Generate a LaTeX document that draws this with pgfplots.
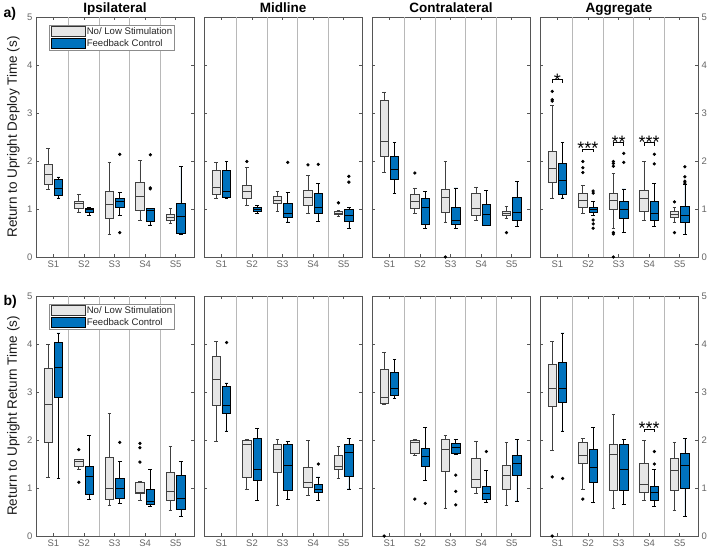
\documentclass[border=0pt]{standalone}
\usepackage{pgfplots}
\pgfplotsset{compat=1.18}
\usepgfplotslibrary{statistics}
\usepackage{fontspec}
\setmainfont{Liberation Sans}
\definecolor{boxgray}{HTML}{E6E6E6}
\definecolor{boxblue}{HTML}{0072BD}
\definecolor{axgray}{HTML}{555555}

\tikzset{stars/.style={anchor=base, font=\fontsize{18}{18}\selectfont, inner sep=0pt}}
\pgfplotsset{
  panel/.style={
    scale only axis, width=158pt, height=240pt,
    xmin=0.43, xmax=5.6, ymin=0, ymax=5,
    xtick={1,2,3,4,5}, xticklabels={S1,S2,S3,S4,S5},
    ytick={0,1,2,3,4,5},
    tick align=inside, major tick length=3pt,
    xtick pos=both, ytick pos=both,
    axis line style={axgray, line width=0.75pt},
    tick style={axgray, line width=0.6pt},
    tick label style={font=\fontsize{9.5}{11}\selectfont, color=black!60},
    /pgf/number format/assume math mode=true,
    extra x ticks={1.5,2.5,3.5,4.5}, extra x tick labels={,,,},
    extra x tick style={grid=major, major grid style={draw=black!28, line width=1pt}, major tick length=0pt},
    boxplot/draw direction=y,
    boxplot/box extend=0.27, boxplot/whisker extend=0.12,
    every axis title/.style={font=\bfseries\fontsize{13.5}{15}\selectfont, at={(0.5,1)}, anchor=base, yshift=5pt},
    legend image code/.code={\draw[#1] (0pt,-5pt) rectangle (34pt,5pt);},
    legend style={at={(0.085,0.967)}, anchor=north west, draw=black!45, line width=0.5pt,
      font=\fontsize{9.6}{11}\selectfont, text=black!85, inner xsep=1.5pt, inner ysep=1pt,
      row sep=1.5pt, nodes={inner sep=0.8pt}},
    legend cell align=left,
  },
  gbox/.style={solid, draw=black!75, fill=boxgray, line width=0.65pt, mark=*, mark size=1.3pt,
    mark options={solid, fill=black, draw=black}, forget plot},
  bbox/.style={solid, draw=black, fill=boxblue, line width=0.65pt, mark=*, mark size=1.3pt,
    mark options={solid, fill=black, draw=black}, forget plot},
}
\newcommand{\G}[7]{\addplot[gbox, boxplot prepared={draw position=#1, lower whisker=#2, lower quartile=#3, median=#4, upper quartile=#5, upper whisker=#6}] coordinates {#7};}
\newcommand{\B}[7]{\addplot[bbox, boxplot prepared={draw position=#1, lower whisker=#2, lower quartile=#3, median=#4, upper quartile=#5, upper whisker=#6}] coordinates {#7};}
\newcommand{\Leg}{%
  \addlegendimage{draw=black!80, fill=boxgray, line width=0.8pt}
  \addlegendentry{No/ Low Stimulation}
  \addlegendimage{draw=black, fill=boxblue, line width=0.8pt}
  \addlegendentry{Feedback Control}}

\begin{document}
\begin{tikzpicture}[x=1pt,y=1pt]
\useasboundingbox (0,0) rectangle (708,-552);
\node[anchor=base west, font=\bfseries\fontsize{14}{16}\selectfont] at (0,-17) {a)};
\node[anchor=base west, font=\bfseries\fontsize{14}{16}\selectfont] at (0,-305) {b)};
\node[rotate=90, font=\fontsize{13.5}{15}\selectfont, text=black!90] at (13.5,-137) {Return to Upright Deploy Time (s)};
\node[rotate=90, font=\fontsize{13.5}{15}\selectfont, text=black!90] at (13.5,-416) {Return to Upright Return Time (s)};

% ---------------- Row a ----------------
\begin{axis}[panel, at={(36pt,-257pt)}, anchor=south west, title={Ipsilateral}]
\Leg
\G{0.83}{1.41}{1.51}{1.72}{1.93}{2.26}{}
\B{1.17}{1.23}{1.28}{1.44}{1.62}{1.67}{}
\G{1.83}{0.94}{1.02}{1.11}{1.16}{1.30}{}
\B{2.17}{0.87}{0.93}{0.99}{1.01}{1.03}{}
\G{2.83}{0.47}{0.81}{1.09}{1.37}{1.98}{}
\B{3.17}{0.87}{1.04}{1.16}{1.23}{1.35}{(0,2.14) (0,0.51)}
\G{3.83}{0.76}{0.97}{1.27}{1.56}{2.01}{}
\B{4.17}{0.67}{0.75}{0.98}{1.01}{1.01}{(0,2.13) (0,1.44) (0,1.42)}
\G{4.83}{0.71}{0.76}{0.83}{0.88}{1.01}{}
\B{5.17}{0.47}{0.49}{0.85}{1.11}{1.89}{}
\end{axis}

\begin{axis}[panel, at={(204pt,-257pt)}, anchor=south west, title={Midline}, yticklabels={}]
\G{0.83}{1.23}{1.30}{1.46}{1.81}{1.97}{}
\B{1.17}{1.23}{1.24}{1.37}{1.81}{2.00}{}
\G{1.83}{1.08}{1.22}{1.37}{1.49}{1.86}{(0,1.99)}
\B{2.17}{0.90}{0.96}{1.00}{1.04}{1.08}{}
\G{2.83}{0.95}{1.11}{1.19}{1.26}{1.37}{}
\B{3.17}{0.73}{0.83}{0.92}{1.12}{1.34}{(0,1.97)}
\G{3.83}{0.92}{1.08}{1.24}{1.39}{1.70}{(0,1.92)}
\B{4.17}{0.74}{0.92}{1.04}{1.32}{1.54}{(0,1.93)}
\G{4.83}{0.85}{0.88}{0.92}{0.96}{0.97}{(0,1.13)}
\B{5.17}{0.59}{0.74}{0.87}{0.99}{1.03}{(0,1.68) (0,1.56)}
\end{axis}

\begin{axis}[panel, at={(372pt,-257pt)}, anchor=south west, title={Contralateral}, yticklabels={}]
\G{0.83}{1.77}{2.10}{2.40}{3.26}{3.44}{}
\B{1.17}{1.33}{1.61}{1.83}{2.10}{2.38}{}
\G{1.83}{0.90}{1.01}{1.16}{1.31}{1.44}{(0,1.75)}
\B{2.17}{0.59}{0.69}{1.03}{1.22}{1.37}{}
\G{2.83}{0.73}{0.94}{1.24}{1.40}{2.00}{(0,0)}
\B{3.17}{0.60}{0.69}{0.76}{1.04}{1.44}{}
\G{3.83}{0.76}{0.87}{1.01}{1.32}{1.46}{}
\B{4.17}{0.66}{0.67}{0.88}{1.10}{1.38}{}
\G{4.83}{0.81}{0.87}{0.92}{0.96}{1.06}{(0,0.51)}
\B{5.17}{0.63}{0.76}{0.94}{1.25}{1.58}{}
\end{axis}

\begin{axis}[panel, at={(540pt,-257pt)}, anchor=south west, title={Aggregate}, yticklabel pos=right]
\G{0.83}{1.23}{1.56}{1.85}{2.21}{3.16}{(0,3.45) (0,3.28) (0,3.25)}
\B{1.17}{1.23}{1.31}{1.60}{1.96}{2.38}{}
\G{1.83}{0.90}{1.04}{1.18}{1.32}{1.49}{(0,1.99) (0,1.86) (0,1.76)}
\B{2.17}{0.87}{0.94}{0.99}{1.04}{1.15}{(0,1.375) (0,1.33) (0,0.77) (0,0.69) (0,0.60)}
\G{2.83}{0.59}{0.99}{1.19}{1.33}{1.75}{(0,1.99) (0,1.95) (0,1.89) (0,0.51) (0,0.48) (0,0)}
\B{3.17}{0.51}{0.81}{0.99}{1.16}{1.42}{(0,2.16) (0,1.97)}
\G{3.83}{0.76}{0.95}{1.22}{1.39}{2.00}{}
\B{4.17}{0.64}{0.76}{0.92}{1.15}{1.54}{(0,2.14) (0,1.94)}
\G{4.83}{0.73}{0.82}{0.88}{0.95}{1.04}{(0,1.15) (0,0.51)}
\B{5.17}{0.47}{0.73}{0.87}{1.06}{1.52}{(0,1.88) (0,1.67) (0,1.58) (0,1.54)}
\addplot[black, line width=0.8pt, forget plot] coordinates {(0.83,3.63) (0.83,3.69) (1.17,3.69) (1.17,3.63)};
\addplot[black, line width=0.8pt, forget plot] coordinates {(1.83,2.19) (1.83,2.25) (2.17,2.25) (2.17,2.19)};
\addplot[black, line width=0.8pt, forget plot] coordinates {(2.83,2.32) (2.83,2.38) (3.17,2.38) (3.17,2.32)};
\addplot[black, line width=0.8pt, forget plot] coordinates {(3.83,2.32) (3.83,2.38) (4.17,2.38) (4.17,2.32)};
\node[stars] at (axis cs:1,3.56) {*};
\node[stars] at (axis cs:2,2.13) {***};
\node[stars] at (axis cs:3,2.27) {**};
\node[stars] at (axis cs:4,2.27) {***};
\end{axis}

% ---------------- Row b ----------------
\begin{axis}[panel, at={(36pt,-536pt)}, anchor=south west]
\Leg
\G{0.83}{1.23}{1.95}{2.74}{3.50}{3.99}{}
\B{1.17}{1.20}{2.89}{3.52}{4.03}{4.23}{}
\G{1.83}{1.38}{1.45}{1.55}{1.59}{1.60}{(0,1.80) (0,1.12)}
\B{2.17}{0.77}{0.86}{1.24}{1.46}{2.10}{}
\G{2.83}{0.63}{0.77}{1.00}{1.64}{2.55}{}
\B{3.17}{0.68}{0.79}{1.00}{1.20}{1.55}{(0,1.95)}
\G{3.83}{0.75}{0.88}{0.92}{1.12}{1.13}{(0,1.93) (0,1.84) (0,1.54)}
\B{4.17}{0.61}{0.66}{0.73}{0.97}{1.38}{}
\G{4.83}{0.53}{0.75}{0.94}{1.33}{1.86}{}
\B{5.17}{0.40}{0.56}{0.79}{1.27}{1.55}{}
\end{axis}

\begin{axis}[panel, at={(204pt,-536pt)}, anchor=south west, yticklabels={}]
\G{0.83}{1.98}{2.72}{3.26}{3.75}{4.05}{}
\B{1.17}{2.19}{2.56}{2.72}{3.12}{3.19}{(0,4.03)}
\G{1.83}{0.98}{1.22}{1.92}{2.00}{2.01}{}
\B{2.17}{0.75}{1.16}{1.39}{2.04}{2.25}{}
\G{2.83}{0.64}{1.33}{1.80}{1.92}{2.02}{}
\B{3.17}{0.77}{0.96}{1.48}{1.90}{1.97}{}
\G{3.83}{0.84}{1.02}{1.11}{1.43}{1.99}{}
\B{4.17}{0.75}{0.91}{0.98}{1.07}{1.23}{(0,1.50)}
\G{4.83}{1.20}{1.39}{1.45}{1.68}{1.87}{}
\B{5.17}{0.98}{1.25}{1.74}{1.90}{2.03}{}
\end{axis}

\begin{axis}[panel, at={(372pt,-536pt)}, anchor=south west, yticklabels={}]
\G{0.83}{2.75}{2.77}{2.89}{3.48}{3.83}{(0,0)}
\B{1.17}{2.86}{2.93}{3.08}{3.40}{3.68}{}
\G{1.83}{1.68}{1.73}{1.96}{1.99}{2.02}{(0,0.77)}
\B{2.17}{1.15}{1.46}{1.66}{1.82}{2.26}{(0,0.68)}
\G{2.83}{0.58}{1.34}{1.80}{2.01}{2.09}{}
\B{3.17}{1.71}{1.73}{1.85}{1.94}{2.01}{(0,1.27) (0,0.93) (0,0.65)}
\G{3.83}{0.89}{1.01}{1.18}{1.62}{1.98}{}
\B{4.17}{0.70}{0.77}{0.88}{1.04}{1.36}{(0,1.76)}
\G{4.83}{0.63}{0.98}{1.26}{1.47}{1.95}{}
\B{5.17}{0.73}{1.27}{1.52}{1.69}{2.01}{}
\end{axis}

\begin{axis}[panel, at={(540pt,-536pt)}, anchor=south west, yticklabel pos=right]
\G{0.83}{1.78}{2.70}{3.07}{3.57}{4.06}{(0,1.23) (0,0)}
\B{1.17}{2.19}{2.79}{3.07}{3.62}{4.23}{(0,1.20)}
\G{1.83}{0.98}{1.52}{1.69}{1.96}{2.03}{(0,0.77)}
\B{2.17}{0.70}{1.12}{1.43}{1.81}{2.26}{}
\G{2.83}{0.58}{0.96}{1.71}{1.92}{2.54}{}
\B{3.17}{0.65}{0.96}{1.39}{1.92}{2.01}{}
\G{3.83}{0.75}{0.91}{1.07}{1.52}{1.99}{}
\B{4.17}{0.61}{0.75}{0.91}{1.04}{1.38}{(0,1.76) (0,1.50)}
\G{4.83}{0.53}{0.96}{1.36}{1.62}{1.95}{}
\B{5.17}{0.40}{1.00}{1.48}{1.73}{2.03}{}
\addplot[black, line width=0.8pt, forget plot] coordinates {(3.83,2.17) (3.83,2.23) (4.17,2.23) (4.17,2.17)};
\node[stars] at (axis cs:4,2.11) {***};
\end{axis}
\end{tikzpicture}
\end{document}
